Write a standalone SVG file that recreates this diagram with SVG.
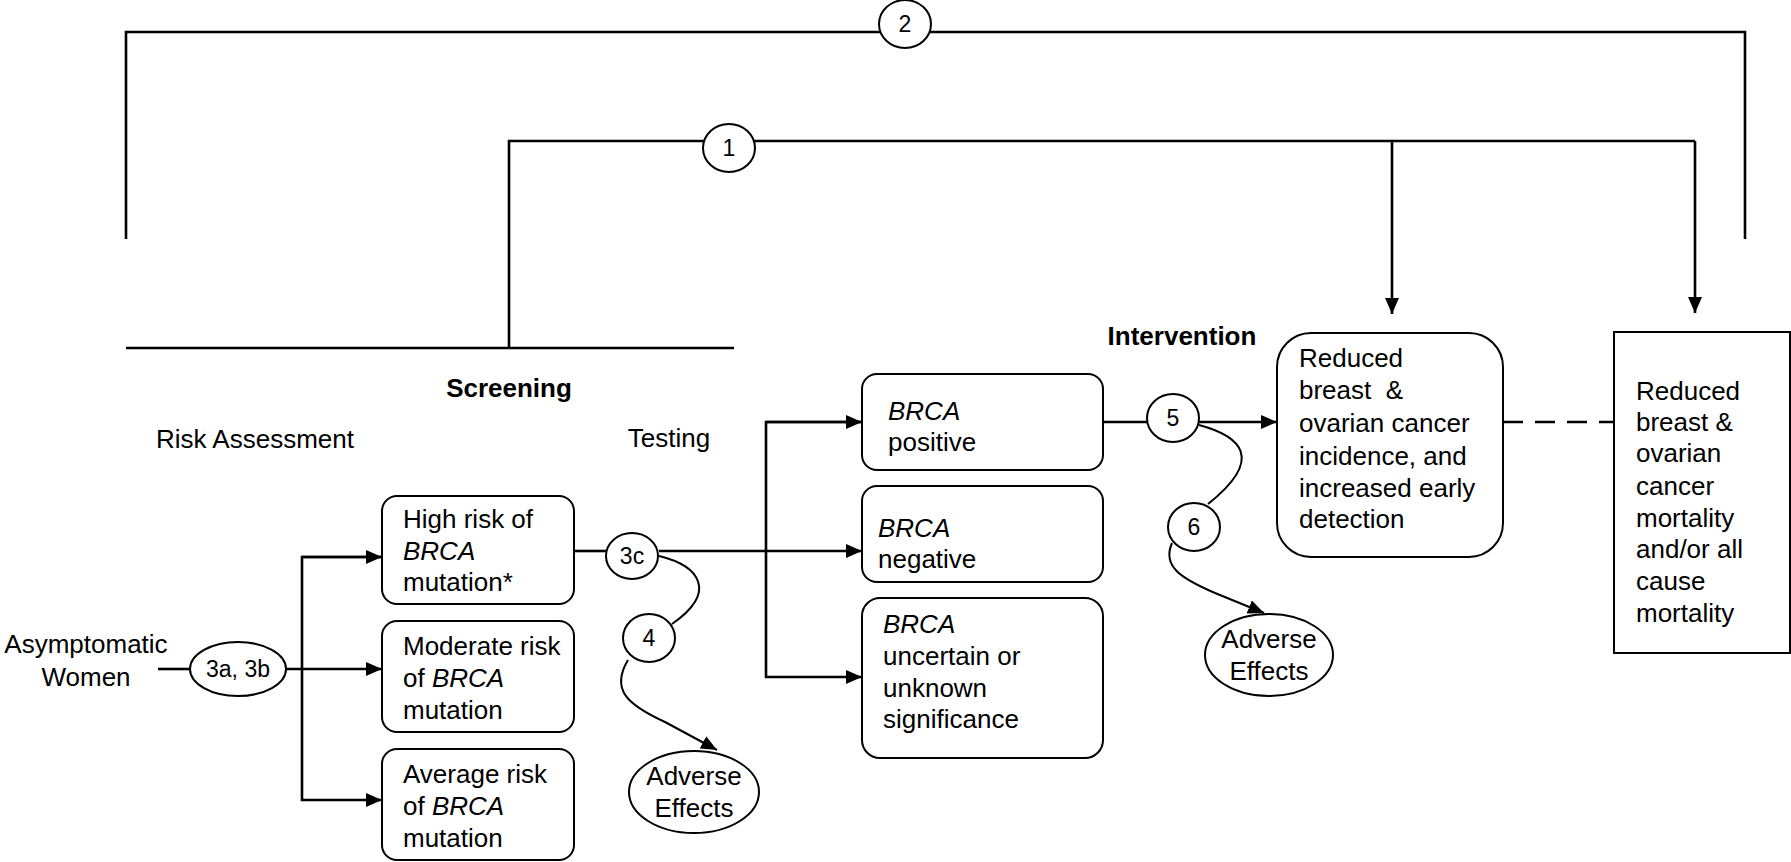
<svg xmlns="http://www.w3.org/2000/svg" width="1791" height="862" viewBox="0 0 1791 862">
<style>
text{font-family:"Liberation Sans",Arial,sans-serif;font-size:26px;fill:#000}
.b{font-weight:bold}
.i{font-style:italic}
.n{font-size:23px}
.c{text-anchor:middle}
.box{fill:#fff;stroke:#000;stroke-width:2}
.ln{fill:none;stroke:#000;stroke-width:2.6}
.cv{fill:none;stroke:#000;stroke-width:2}
</style>
<defs>
<marker id="ah" viewBox="0 0 16 14" refX="16" refY="7" markerWidth="16" markerHeight="14" markerUnits="userSpaceOnUse" orient="auto">
<path d="M0,0 L16,7 L0,14 z" fill="#000"/>
</marker>
</defs>
<rect width="1791" height="862" fill="#fff"/>
<g id="connectors">
<polyline class="ln" points="126,239 126,32 1745,32 1745,239"/>
<polyline class="ln" points="509,348 509,141 1695,141"/>
<line class="ln" x1="126" y1="348" x2="734" y2="348"/>
<line class="ln" x1="1392" y1="141" x2="1392" y2="314" marker-end="url(#ah)"/>
<line class="ln" x1="1695" y1="141" x2="1695" y2="313" marker-end="url(#ah)"/>
<line class="ln" x1="158" y1="669" x2="190" y2="669"/>
<line class="ln" x1="286" y1="669" x2="382" y2="669" marker-end="url(#ah)"/>
<polyline class="ln" points="382,557 302,557 302,800 382,800" marker-end="url(#ah)"/>
<line class="ln" x1="302" y1="557" x2="382" y2="557" marker-end="url(#ah)"/>
<line class="ln" x1="574" y1="551" x2="606" y2="551"/>
<line class="ln" x1="659" y1="551" x2="862" y2="551" marker-end="url(#ah)"/>
<polyline class="ln" points="862,422 766,422 766,677 862,677" marker-end="url(#ah)"/>
<line class="ln" x1="766" y1="422" x2="862" y2="422" marker-end="url(#ah)"/>
<line class="ln" x1="1103" y1="422" x2="1147" y2="422"/>
<line class="ln" x1="1199" y1="422" x2="1277" y2="422" marker-end="url(#ah)"/>
<line class="ln" x1="1503" y1="422" x2="1614" y2="422" stroke-dasharray="20,12"/>
<path class="cv" d="M659,556 C700,566 718,592 672,624"/>
<path class="cv" d="M628,660 C610,690 628,705 665,722 L717,750" marker-end="url(#ah)"/>
<path class="cv" d="M1199,425 C1240,436 1266,458 1208,504"/>
<path class="cv" d="M1172,543 C1162,566 1180,578 1215,593 L1264,613" marker-end="url(#ah)"/>
</g>
<g id="n2"><ellipse class="box" cx="905" cy="24" rx="26" ry="24"/><text class="n c" x="905" y="32">2</text></g>
<g id="n1"><ellipse class="box" cx="729" cy="148" rx="26" ry="24"/><text class="n c" x="729" y="156">1</text></g>
<g id="labels">
<text class="b c" x="1182" y="345">Intervention</text>
<text class="b c" x="509" y="397">Screening</text>
<text class="c" x="255" y="448">Risk Assessment</text>
<text class="c" x="669" y="447">Testing</text>
</g>
<g id="women"><text class="c" x="86" y="653">Asymptomatic</text><text class="c" x="86" y="686">Women</text></g>
<g id="n3ab"><ellipse class="box" cx="238" cy="669" rx="48" ry="27"/><text class="n c" x="238" y="677">3a, 3b</text></g>
<g id="high"><rect class="box" x="382" y="496" width="192" height="108" rx="15"/>
<text x="403" y="528">High risk of</text><text class="i" x="403" y="560">BRCA</text><text x="403" y="591">mutation*</text></g>
<g id="moderate"><rect class="box" x="382" y="621" width="192" height="111" rx="15"/>
<text x="403" y="655">Moderate risk</text><text x="403" y="687">of <tspan class="i">BRCA</tspan></text><text x="403" y="719">mutation</text></g>
<g id="average"><rect class="box" x="382" y="749" width="192" height="111" rx="15"/>
<text x="403" y="783">Average risk</text><text x="403" y="815">of <tspan class="i">BRCA</tspan></text><text x="403" y="847">mutation</text></g>
<g id="n3c"><ellipse class="box" cx="632" cy="556" rx="26" ry="23"/><text class="n c" x="632" y="564">3c</text></g>
<g id="n4"><ellipse class="box" cx="649" cy="638" rx="26" ry="24"/><text class="n c" x="649" y="646">4</text></g>
<g id="adv1"><ellipse class="box" cx="694" cy="792" rx="65" ry="41"/><text class="c" x="694" y="785">Adverse</text><text class="c" x="694" y="817">Effects</text></g>
<g id="positive"><rect class="box" x="862" y="374" width="241" height="96" rx="15"/>
<text class="i" x="888" y="420">BRCA</text><text x="888" y="451">positive</text></g>
<g id="negative"><rect class="box" x="862" y="486" width="241" height="96" rx="15"/>
<text class="i" x="878" y="537">BRCA</text><text x="878" y="568">negative</text></g>
<g id="uncertain"><rect class="box" x="862" y="598" width="241" height="160" rx="18"/>
<text class="i" x="883" y="633">BRCA</text><text x="883" y="665">uncertain or</text><text x="883" y="697">unknown</text><text x="883" y="728">significance</text></g>
<g id="n5"><ellipse class="box" cx="1173" cy="418" rx="26" ry="24"/><text class="n c" x="1173" y="426">5</text></g>
<g id="n6"><ellipse class="box" cx="1194" cy="527" rx="26" ry="24"/><text class="n c" x="1194" y="535">6</text></g>
<g id="adv2"><ellipse class="box" cx="1269" cy="655" rx="64" ry="41"/><text class="c" x="1269" y="648">Adverse</text><text class="c" x="1269" y="680">Effects</text></g>
<g id="incidence"><rect class="box" x="1277" y="333" width="226" height="224" rx="34"/>
<text x="1299" y="367">Reduced</text><text x="1299" y="399">breast&#160; &amp;</text><text x="1299" y="432">ovarian cancer</text><text x="1299" y="465">incidence, and</text><text x="1299" y="497">increased early</text><text x="1299" y="528">detection</text></g>
<g id="mortality"><rect class="box" x="1614" y="332" width="176" height="321"/>
<text x="1636" y="400">Reduced</text><text x="1636" y="431">breast &amp;</text><text x="1636" y="462">ovarian</text><text x="1636" y="495">cancer</text><text x="1636" y="527">mortality</text><text x="1636" y="558">and/or all</text><text x="1636" y="590">cause</text><text x="1636" y="622">mortality</text></g>
</svg>
